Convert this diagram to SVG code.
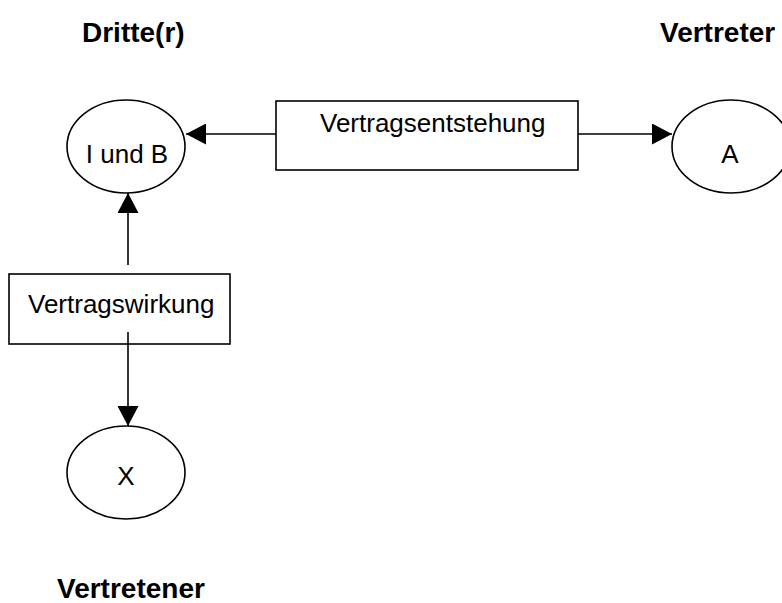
<svg xmlns="http://www.w3.org/2000/svg" width="782" height="603" viewBox="0 0 782 603">
<style>
.shape{fill:#fff;stroke:#000;stroke-width:1.6}
.line{fill:none;stroke:#000;stroke-width:1.6}
.lbl{font-family:"Liberation Sans",Arial,sans-serif;font-size:26px;fill:#000}
.title{font-family:"Liberation Sans",Arial,sans-serif;font-size:28px;font-weight:bold;fill:#000}
</style>
<defs>
<marker id="ah" markerUnits="userSpaceOnUse" markerWidth="20" markerHeight="21" refX="20" refY="10.5" orient="auto">
<path d="M0,0 L20,10.5 L0,21 z" fill="#000"/>
</marker>
</defs>
<rect width="782" height="603" fill="#fff"/>
<g id="titles">
<text class="title" x="82" y="42">Dritte(r)</text>
<text class="title" x="660" y="42">Vertreter</text>
<text class="title" x="57" y="598">Vertretener</text>
</g>
<g id="connectors">
<line class="line" x1="276" y1="134" x2="186" y2="134" marker-end="url(#ah)"/>
<line class="line" x1="578" y1="134" x2="672" y2="134" marker-end="url(#ah)"/>
<line class="line" x1="128" y1="265" x2="128" y2="193" marker-end="url(#ah)"/>
<line class="line" x1="128" y1="332" x2="128" y2="426" marker-end="url(#ah)"/>
</g>
<g id="node-iundb">
<ellipse class="shape" cx="126" cy="146.5" rx="59" ry="46.5"/>
<text class="lbl" x="127" y="163" text-anchor="middle">I und B</text>
</g>
<g id="node-a">
<ellipse class="shape" cx="731" cy="146.5" rx="59" ry="46.5"/>
<text class="lbl" x="730" y="163" text-anchor="middle">A</text>
</g>
<g id="node-x">
<ellipse class="shape" cx="126" cy="472.5" rx="59" ry="46.5"/>
<text class="lbl" x="126" y="485" text-anchor="middle">X</text>
</g>
<g id="node-vertragsentstehung">
<rect class="shape" x="276" y="101" width="302" height="69"/>
<text class="lbl" x="320" y="132">Vertragsentstehung</text>
</g>
<g id="node-vertragswirkung">
<rect class="shape" x="9" y="274" width="221" height="70"/>
<text class="lbl" x="28" y="313">Vertragswirkung</text>
<line class="line" x1="128" y1="332" x2="128" y2="344"/>
</g>
</svg>
